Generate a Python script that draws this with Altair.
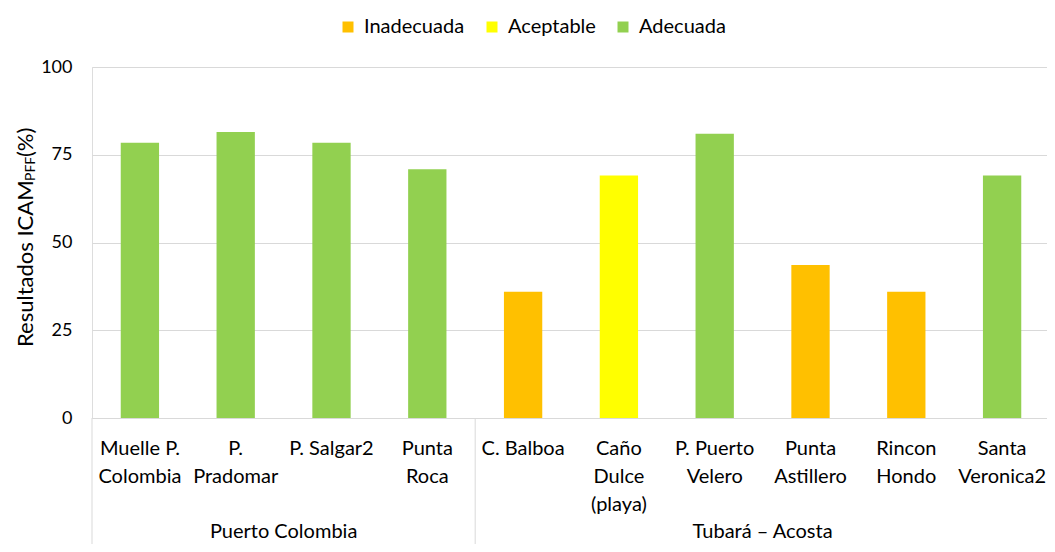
import altair as alt
import pandas as pd

# ---- data -------------------------------------------------------------
categories = ["Muelle P.|Colombia", "P.|Pradomar", "P. Salgar2", "Punta|Roca",
              "C. Balboa", "Caño|Dulce|(playa)", "P. Puerto|Velero",
              "Punta|Astillero", "Rincon|Hondo", "Santa|Veronica2"]
values = [78.4, 81.5, 78.4, 70.9, 36.0, 69.1, 81.0, 43.6, 36.0, 69.1]
ratings = ["Adecuada", "Adecuada", "Adecuada", "Adecuada", "Inadecuada",
           "Aceptable", "Adecuada", "Inadecuada", "Inadecuada", "Adecuada"]
rating_order = ["Inadecuada", "Aceptable", "Adecuada"]
rating_colors = ["#FFC000", "#FFFF00", "#92D050"]
groups = ["Puerto Colombia", "Tubará – Acosta"]
group_center_cat = ["P. Salgar2", "Punta|Astillero"]   # left edge of this slot = centre of group
group_start_cat = ["Muelle P.|Colombia", "C. Balboa"]
group_end_cat = ["Santa|Veronica2"]
y_ticks = [0, 25, 50, 75, 100]
title_parts = ["Resultados ICAM", "PFF", "(%)"]

FONT = "Lato"
W, H = 955, 351      # visible plot area
XRANGE = 958         # full category range
BOTTOM = 126

bars_df = pd.DataFrame({"cat": categories, "value": values, "rating": ratings})
xscale = alt.Scale(domain=categories, paddingInner=0, paddingOuter=0, range=[0, XRANGE])

bars = alt.Chart(bars_df).mark_bar(width=alt.RelativeBandSize(0.4)).encode(
    x=alt.X("cat:N", sort=categories, scale=xscale, title=None,
            axis=alt.Axis(labelExpr="split(datum.label, '|')", labelAngle=0,
                          labelFontSize=20, labelLineHeight=28, labelPadding=36,
                          labelBaseline="alphabetic", labelColor="#000000",
                          ticks=False, domainColor="#D9D9D9", domainWidth=1,
                          grid=False, labelFont=FONT, labelOverlap=False)),
    y=alt.Y("value:Q", scale=alt.Scale(domain=[0, 100], nice=False), title=None,
            axis=alt.Axis(values=y_ticks, domain=False, ticks=False, grid=True,
                          gridColor="#D9D9D9", gridWidth=1, labelPadding=20,
                          labelFontSize=18, labelColor="#000000", labelFont=FONT)),
    color=alt.Color("rating:N", scale=alt.Scale(domain=rating_order, range=rating_colors),
                    legend=alt.Legend(title=None, orient="none", legendX=246, legendY=-50,
                                      direction="horizontal", symbolType="square",
                                      symbolSize=121, symbolStrokeWidth=0, symbolOpacity=1,
                                      labelFontSize=20, labelFont=FONT, labelColor="#000000",
                                      labelOffset=6, columnPadding=17)),
)

start_df = pd.DataFrame({"cat": group_start_cat})
end_df = pd.DataFrame({"cat": group_end_cat})
sep_start = alt.Chart(start_df).mark_rule(color="#D9D9D9", strokeWidth=1).encode(
    x=alt.X("cat:N", sort=categories, bandPosition=0, title=None),
    y=alt.value(H), y2=alt.value(H + BOTTOM))
sep_end = alt.Chart(end_df).mark_rule(color="#D9D9D9", strokeWidth=1).encode(
    x=alt.X("cat:N", sort=categories, bandPosition=1, title=None),
    y=alt.value(H), y2=alt.value(H + BOTTOM))

grp_df = pd.DataFrame({"cat": group_center_cat, "label": groups})
grp_text = alt.Chart(grp_df).mark_text(fontSize=20, font=FONT, color="#000000",
                                       baseline="alphabetic", align="center").encode(
    x=alt.X("cat:N", sort=categories, bandPosition=0, title=None),
    y=alt.value(H + BOTTOM - 6),
    text="label:N")

t_df = pd.DataFrame({"t": title_parts,
                     "py": [280, 114, 90],
                     "px": [-59, -57, -59],
                     "fs": [22, 14, 22]})
ytitle = alt.Chart(t_df).mark_text(font=FONT, color="#000000", angle=270,
                                   align="left", baseline="alphabetic").encode(
    x=alt.X("px:Q", scale=None),
    y=alt.Y("py:Q", scale=None),
    size=alt.Size("fs:Q", scale=None, legend=None),
    text="t:N")

chart = alt.layer(bars, sep_start, sep_end, grp_text, ytitle).properties(
    width=W, height=H,
    autosize=alt.AutoSizeParams(type="none"),
    padding={"left": 84, "top": 59, "right": 0, "bottom": BOTTOM},
).configure_view(stroke=None).configure(font=FONT)

chart.save("out.html", embed_options={"renderer": "svg", "actions": False})
